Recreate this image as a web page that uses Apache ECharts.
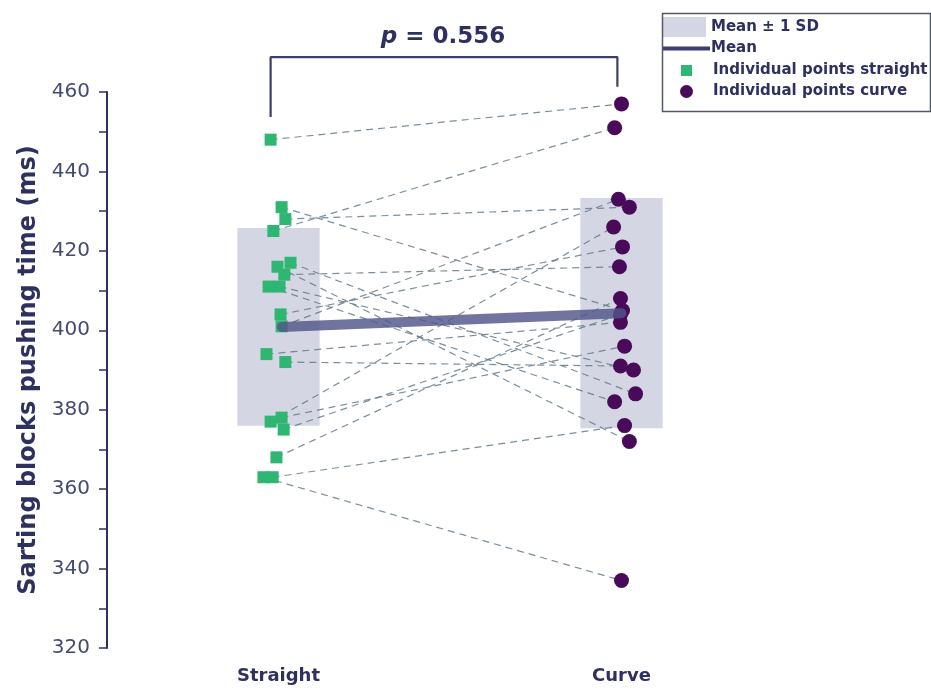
<!DOCTYPE html>
<html>
<head>
<meta charset="utf-8">
<script src="https://cdn.jsdelivr.net/npm/echarts@6/dist/echarts.min.js"></script>
<style>html,body{margin:0;padding:0;background:#fff;}#main{width:931px;height:691px;}</style>
</head>
<body>
<div id="main"></div>
<script>
// ---- data ----
const categories = ['Straight', 'Curve'];
const yTicks = [320, 340, 360, 380, 400, 420, 440, 460];
// paired observations (same index = same subject)
const straightValues = [448, 431, 428, 425, 417, 416, 414, 411, 411, 404, 401, 394, 392, 378, 377, 375, 368, 363, 363];
const curveValues    = [457, 405, 431, 451, 384, 372, 416, 382, 390, 421, 433, 402, 391, 396, 426, 404, 408, 337, 376];
// horizontal jitter (in category units)
const straightJitter = [-0.023, 0.009, 0.020, -0.015, 0.035, -0.003, 0.017, -0.029, 0.003, 0.006, 0.009, -0.035, 0.020, 0.009, -0.023, 0.015, -0.006, -0.044, -0.017];
const curveJitter    = [0, 0.003, 0.023, -0.020, 0.041, 0.023, -0.006, -0.020, 0.035, 0.003, -0.009, -0.003, -0.003, 0.009, -0.023, -0.003, -0.003, 0, 0.009];
const pValueText = '0.556';
const bracketX = [0.977, 1.988];
const bracketY = [453.7, 468.8, 461.3];

// ---- derived ----
function mean(a) { return a.reduce((s, v) => s + v, 0) / a.length; }
function sd(a) { const m = mean(a); return Math.sqrt(a.reduce((s, v) => s + (v - m) * (v - m), 0) / (a.length - 1)); }
const means = [mean(straightValues), mean(curveValues)];
const sds = [sd(straightValues), sd(curveValues)];

const navy = '#2e3160';
const FONT = '"DejaVu Sans", sans-serif';

const straightPts = straightValues.map((v, i) => [1 + straightJitter[i], v]);
const curvePts = curveValues.map((v, i) => [2 + curveJitter[i], v]);
const pairs = straightValues.map((v, i) => [straightPts[i][0], v, curvePts[i][0], curveValues[i]]);
const boxData = categories.map((c, i) => [i + 1, means[i], sds[i]]);

const chart = echarts.init(document.getElementById('main'), null, { renderer: 'canvas' });
const BOX_HALF = 0.12;
const legendText = { color: navy, fontFamily: FONT, fontWeight: 'bold', fontSize: 15 };

const option = {
  animation: false,
  backgroundColor: '#ffffff',
  grid: { left: 107, top: 92, width: 686, height: 556, containLabel: false },
  xAxis: {
    type: 'value', min: 0.5, max: 2.5, interval: 0.5,
    axisLine: { show: false }, axisTick: { show: false }, splitLine: { show: false },
    axisLabel: {
      margin: 19, color: navy, fontFamily: FONT, fontWeight: 'bold', fontSize: 18,
      formatter: v => (Math.abs(v - 1) < 1e-6 ? categories[0] : Math.abs(v - 2) < 1e-6 ? categories[1] : '')
    }
  },
  yAxis: {
    type: 'value', min: yTicks[0], max: yTicks[yTicks.length - 1], interval: 20,
    name: 'Sarting blocks pushing time (ms)', nameLocation: 'middle', nameGap: 64,
    nameTextStyle: { color: navy, fontFamily: FONT, fontWeight: 'bold', fontSize: 24 },
    axisLine: { show: true, lineStyle: { color: navy, width: 2 } },
    axisTick: { show: true, length: 8, lineStyle: { color: navy, width: 1.5 } },
    minorTick: { show: true, splitNumber: 2, length: 8, lineStyle: { color: navy, width: 1.5 } },
    splitLine: { show: false },
    axisLabel: { margin: 17, color: '#454a72', fontFamily: FONT, fontSize: 20 }
  },
  legend: [
    { data: [{ name: 'Mean ± 1 SD', icon: 'rect' }], left: 663, top: 17, padding: 0, itemWidth: 43, itemHeight: 20, selectedMode: false,
      textStyle: legendText },
    { data: [{ name: 'Mean', icon: 'rect', itemStyle: { color: '#3a3e72' } }], left: 663, top: 41, padding: 0, itemWidth: 47, itemHeight: 4, selectedMode: false,
      textStyle: Object.assign({}, legendText, { padding: [0, 0, 0, -4] }) },
    { data: [{ name: 'Individual points straight', icon: 'rect' }], left: 681, top: 63, padding: 0, itemWidth: 11, itemHeight: 11, selectedMode: false,
      textStyle: Object.assign({}, legendText, { padding: [0, 0, 0, 16] }) },
    { data: [{ name: 'Individual points curve', icon: 'circle' }], left: 680, top: 84, padding: 0, itemWidth: 13, itemHeight: 13, selectedMode: false,
      textStyle: Object.assign({}, legendText, { padding: [0, 0, 0, 15] }) }
  ],
  graphic: [
    { type: 'rect', left: 660, top: 11, shape: { width: 268, height: 98 }, style: { fill: 'none', stroke: '#55586a', lineWidth: 1.5 }, z: 100 },
    { type: 'text', x: 443, y: 37, style: {
        text: '{i|p} = ' + pValueText, align: 'center', verticalAlign: 'middle',
        font: 'bold 23px ' + FONT, fill: navy,
        rich: { i: { fontStyle: 'italic', fontWeight: 'bold', fontSize: 23, fontFamily: FONT, fill: navy } }
      }, z: 100 }
  ],
  series: [
    {
      name: 'Mean ± 1 SD', type: 'custom', data: boxData, z: 1,
      itemStyle: { color: '#d5d6e3' },
      encode: { x: 0, y: 1 },
      renderItem: function (params, api) {
        const c = api.value(0), m = api.value(1), s = api.value(2);
        const p1 = api.coord([c - BOX_HALF, m + s]);
        const p2 = api.coord([c + BOX_HALF, m - s]);
        return { type: 'rect', shape: { x: p1[0], y: p1[1], width: p2[0] - p1[0], height: p2[1] - p1[1] },
                 style: { fill: '#d5d6e3' } };
      }
    },
    {
      name: 'pairs', type: 'custom', data: pairs, z: 2, silent: true,
      encode: { x: [0, 2], y: [1, 3] },
      renderItem: function (params, api) {
        const a = api.coord([api.value(0), api.value(1)]);
        const b = api.coord([api.value(2), api.value(3)]);
        return { type: 'line', shape: { x1: a[0], y1: a[1], x2: b[0], y2: b[1] },
                 style: { stroke: 'rgba(100,122,140,0.85)', lineWidth: 1.2, lineDash: [7, 5] } };
      }
    },
    {
      name: 'Individual points straight', type: 'scatter', data: straightPts, z: 3,
      symbol: 'rect', symbolSize: 12, itemStyle: { color: '#2fb672', opacity: 1 }
    },
    {
      name: 'Individual points curve', type: 'scatter', data: curvePts, z: 3,
      symbol: 'circle', symbolSize: 15, itemStyle: { color: '#4a0a5a', opacity: 1 }
    },
    {
      name: 'Mean', type: 'line', z: 4, showSymbol: false, symbol: 'none',
      data: [[1.01, means[0]], [2.0, means[1]]],
      lineStyle: { color: 'rgba(82,86,138,0.82)', width: 10, cap: 'round' },
      itemStyle: { color: '#3a3e72' }
    },
    {
      name: 'bracket', type: 'line', z: 5, showSymbol: false, symbol: 'none', clip: false, silent: true,
      data: [[bracketX[0], bracketY[0]], [bracketX[0], bracketY[1]], [bracketX[1], bracketY[1]], [bracketX[1], bracketY[2]]],
      lineStyle: { color: '#3c4068', width: 2.2 }
    }
  ]
};
chart.setOption(option);
</script>
</body>
</html>
